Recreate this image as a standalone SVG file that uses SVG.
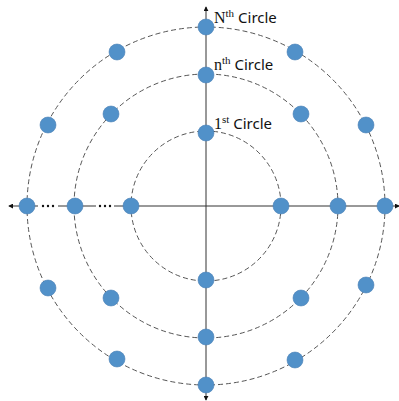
<svg xmlns="http://www.w3.org/2000/svg" width="399" height="401" viewBox="0 0 399 401">
<defs>
<style>
.ring{fill:none;stroke:#555;stroke-width:1;stroke-dasharray:5,3}
.axis{stroke:#333;stroke-width:1;fill:none}
.dot{fill:#5191C9;stroke:#4A80B5;stroke-width:0.6}
.lbl{font-family:"Noto Sans","Liberation Sans",sans-serif;font-size:15px;fill:#111}
.ser{font-family:"Liberation Serif","DejaVu Serif",serif;font-size:16px}
.sup{font-family:"Liberation Serif","DejaVu Serif",serif;font-size:11px}
.ell{fill:#111}
</style>
<marker id="ah" viewBox="0 0 6 6" refX="5" refY="3" markerWidth="5" markerHeight="5" orient="auto" markerUnits="userSpaceOnUse">
<path d="M0,0 L6,3 L0,6 z" fill="#111"/>
</marker>
</defs>
<g id="rings">
<circle class="ring" cx="206" cy="206" r="75"/>
<circle class="ring" cx="206" cy="206" r="132"/>
<circle class="ring" cx="206" cy="206" r="179"/>
</g>
<g id="connectors">
<line class="axis" x1="206" y1="206" x2="206" y2="7" marker-end="url(#ah)"/>
<line class="axis" x1="206" y1="206" x2="206" y2="400" marker-end="url(#ah)"/>
<line class="axis" x1="206" y1="206" x2="9" y2="206" marker-end="url(#ah)"/>
<line class="axis" x1="206" y1="206" x2="399" y2="206" marker-end="url(#ah)"/>
<rect x="38" y="203" width="20" height="6" fill="#fff"/>
<rect x="96" y="203" width="18" height="6" fill="#fff"/>
<circle class="ell" cx="43" cy="206" r="1.2"/>
<circle class="ell" cx="48" cy="206" r="1.2"/>
<circle class="ell" cx="53" cy="206" r="1.2"/>
<circle class="ell" cx="100" cy="206" r="1.2"/>
<circle class="ell" cx="105" cy="206" r="1.2"/>
<circle class="ell" cx="110" cy="206" r="1.2"/>
</g>
<g id="inner-nodes">
<circle class="dot" cx="131" cy="206" r="8"/>
<circle class="dot" cx="281" cy="206" r="8"/>
<circle class="dot" cx="206" cy="133" r="8"/>
<circle class="dot" cx="206" cy="280" r="8"/>
</g>
<g id="middle-nodes">
<circle class="dot" cx="75" cy="206" r="8"/>
<circle class="dot" cx="338" cy="206" r="8"/>
<circle class="dot" cx="206" cy="75" r="8"/>
<circle class="dot" cx="206" cy="337" r="8"/>
<circle class="dot" cx="111" cy="114" r="8"/>
<circle class="dot" cx="301" cy="114" r="8"/>
<circle class="dot" cx="111" cy="298" r="8"/>
<circle class="dot" cx="301" cy="298" r="8"/>
</g>
<g id="outer-nodes">
<circle class="dot" cx="27" cy="206" r="8"/>
<circle class="dot" cx="385" cy="206" r="8"/>
<circle class="dot" cx="206" cy="27" r="8"/>
<circle class="dot" cx="206" cy="385" r="8"/>
<circle class="dot" cx="117" cy="52" r="8"/>
<circle class="dot" cx="295" cy="52" r="8"/>
<circle class="dot" cx="48" cy="125" r="8"/>
<circle class="dot" cx="366" cy="125" r="8"/>
<circle class="dot" cx="48" cy="288" r="8"/>
<circle class="dot" cx="366" cy="285" r="8"/>
<circle class="dot" cx="117" cy="359" r="8"/>
<circle class="dot" cx="295" cy="360" r="8"/>
</g>
<g id="labels">
<text class="lbl" x="214" y="23"><tspan class="ser">N</tspan><tspan class="sup" dy="-6">th</tspan><tspan dy="6"> Circle</tspan></text>
<text class="lbl" x="214" y="70"><tspan class="ser">n</tspan><tspan class="sup" dy="-6">th</tspan><tspan dy="6"> Circle</tspan></text>
<text class="lbl" x="214" y="129"><tspan class="ser">1</tspan><tspan class="sup" dy="-6">st</tspan><tspan dy="6"> Circle</tspan></text>
</g>
</svg>
